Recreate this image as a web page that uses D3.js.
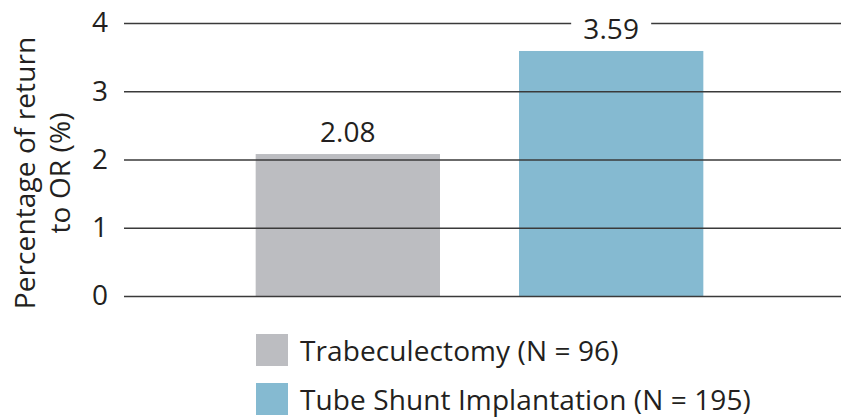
<!DOCTYPE html>
<html>
<head>
<meta charset="utf-8">
<script src="https://cdn.jsdelivr.net/npm/d3@7"></script>
<style>
  body { margin: 0; background: #fff; }
  text { font-family: "Open Sans", Lato, sans-serif; fill: #231f20; letter-spacing: 0.1px; }
</style>
</head>
<body>
<div id="chart"></div>
<script>
// data
const categories = ["Trabeculectomy", "Tube Shunt Implantation"];
const values = [2.08, 3.59];
const counts = [96, 195];
const colors = ["#bcbdc1", "#85bad1"];
const yTicks = [0, 1, 2, 3, 4];

const width = 841;
const height = 417;
const fontSize = 28;

const svg = d3.select("#chart")
  .append("svg")
  .attr("width", width)
  .attr("height", height);

const x = d3.scaleBand()
  .domain(categories)
  .range([124, 835])
  .paddingInner(0.3)
  .paddingOuter(0.5);

const y = d3.scaleLinear()
  .domain([0, 4])
  .range([296, 23]);

// bars
svg.append("g")
  .selectAll("rect")
  .data(categories)
  .join("rect")
    .attr("x", d => x(d))
    .attr("y", (d, i) => y(values[i]))
    .attr("width", x.bandwidth())
    .attr("height", (d, i) => y(0) - y(values[i]))
    .attr("fill", (d, i) => colors[i]);

// gridlines + tick labels
const yAxis = d3.axisLeft(y)
  .tickValues(yTicks)
  .tickSize(-(width - 124))
  .tickPadding(16)
  .tickFormat(d3.format("d"));

const axisG = svg.append("g")
  .attr("transform", "translate(124,0)")
  .call(yAxis);

axisG.select(".domain").remove();
axisG.selectAll(".tick line")
  .attr("stroke", "#3a3a3a")
  .attr("stroke-width", 1.5);
axisG.selectAll(".tick text")
  .attr("font-size", fontSize)
  .attr("font-family", "'Open Sans', sans-serif")
  .attr("fill", "#231f20");

// value labels (white box breaks the gridline)
const labels = svg.append("g")
  .selectAll("g")
  .data(categories)
  .join("g")
    .attr("transform", (d, i) => `translate(${x(d) + x.bandwidth() / 2},${y(values[i]) - 12})`);

labels.append("rect")
  .attr("x", -40)
  .attr("y", -24)
  .attr("width", 80)
  .attr("height", 26)
  .attr("fill", "#fff");

labels.append("text")
  .attr("text-anchor", "middle")
  .attr("font-size", fontSize)
  .text((d, i) => values[i].toFixed(2));

// y label
const yLabel = svg.append("text")
  .attr("transform", "translate(0,173) rotate(-90)")
  .attr("text-anchor", "middle")
  .attr("font-size", fontSize);

yLabel.append("tspan")
  .attr("x", 0)
  .attr("y", 35)
  .text("Percentage of return");

yLabel.append("tspan")
  .attr("x", 0)
  .attr("y", 70)
  .text("to OR (%)");

// legend
const legend = svg.append("g")
  .selectAll("g")
  .data(categories)
  .join("g")
    .attr("transform", (d, i) => `translate(256,${334 + i * 49})`);

legend.append("rect")
  .attr("width", 32)
  .attr("height", 32)
  .attr("fill", (d, i) => colors[i]);

legend.append("text")
  .attr("x", 44)
  .attr("y", 27)
  .attr("font-size", fontSize)
  .text((d, i) => `${d} (N = ${counts[i]})`);
</script>
</body>
</html>
